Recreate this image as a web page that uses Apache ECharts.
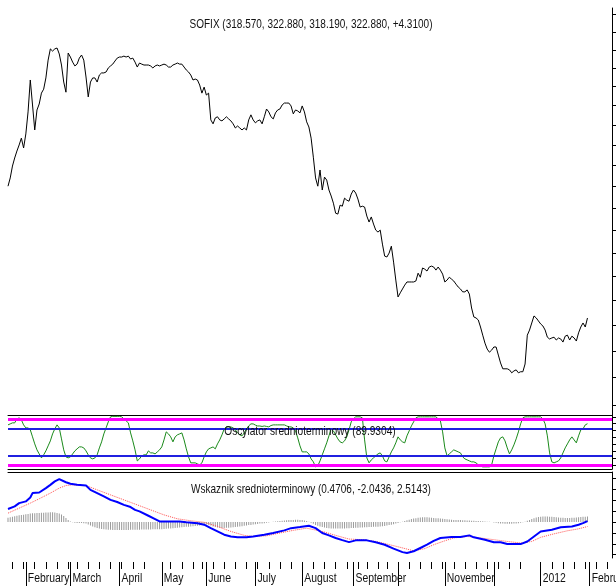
<!DOCTYPE html>
<html><head><meta charset="utf-8">
<script src="https://cdn.jsdelivr.net/npm/echarts@6/dist/echarts.min.js"></script>
<style>html,body{margin:0;padding:0;background:#fff}#c{width:616px;height:586px}</style>
</head><body><div id="c"></div>
<script>
// ---------- data ----------
const firstDay = '2011-01-20';
const lastDay = '2012-02-15';
const holidays = ['2011-03-03','2011-04-22','2011-04-25','2011-05-06','2011-05-24','2011-09-06','2011-09-22','2011-12-26'];
const monthTickLabels = ['February','March','April','May','June','July','August','September','','November','','2012','February'];

const mainTitle = 'SOFIX (318.570, 322.880, 318.190, 322.880, +4.3100)';
const oscTitle = 'Oscylator srednioterminowy (89.9304)';
const macdTitle = 'Wskaznik srednioterminowy (0.4706, -2.0436, 2.5143)';

const priceTicks = [290,300,310,320,330,340,350,360,370,380,390,400,410,420,430,440,450,460,470];
const oscTicks = [0,15,30,45,60,75,90,105];
const macdTicks = [-15,-10,-5,0,5,10,15,20];
const oscBands = [0,100];
const oscLevels = [20,80];

const price = [380.1,384.0,389.7,393.6,397.0,400.0,403.4,398.5,405.5,416.7,
433.5,420.3,407.5,417.7,420.8,426.5,428.6,434.6,444.3,450.5,
449.3,450.5,451.0,447.7,441.6,432.4,427.0,448.2,446.0,443.2,
441.1,442.1,445.4,447.1,444.3,435.1,424.5,432.4,434.6,434.6,
432.4,436.2,437.3,437.3,437.8,440.0,441.1,442.1,443.8,445.4,
446.0,446.0,446.5,446.0,446.5,444.9,445.4,443.2,440.5,442.7,
442.1,441.6,441.6,441.6,441.1,440.0,441.1,441.6,441.1,441.6,
442.1,441.6,440.5,440.5,441.6,442.1,442.7,442.1,442.1,440.5,
438.9,437.8,436.2,433.5,434.0,433.5,430.8,426.5,429.7,425.5,
426.5,412.6,410.6,413.6,414.2,412.6,412.1,413.1,414.2,413.1,
412.1,410.6,408.5,409.5,408.5,407.5,408.5,407.5,412.6,415.2,
412.6,411.1,412.1,412.6,410.6,414.2,418.2,416.7,414.2,413.1,
416.2,417.7,418.2,420.3,421.3,421.3,421.3,419.8,415.7,417.7,
417.2,416.2,419.8,416.7,411.6,409.0,403.4,394.0,384.0,380.1,
387.8,378.3,384.4,383.0,378.3,375.5,372.2,367.6,367.2,371.3,
370.8,374.5,373.6,373.1,376.4,378.3,376.9,374.1,370.4,370.8,
370.4,366.3,363.6,365.9,362.7,360.0,359.1,360.0,353.8,348.6,
348.2,349.9,352.9,346.0,338.4,331.4,333.1,334.7,336.3,337.6,
337.6,337.6,337.6,338.0,341.3,339.6,343.5,343.0,342.2,343.9,
344.3,343.9,342.6,343.9,342.6,340.9,337.6,338.4,339.6,338.8,
338.0,336.7,335.5,334.7,333.5,333.5,334.3,332.6,326.9,323.3,
322.9,322.1,319.3,316.1,313.0,310.7,309.5,310.3,311.5,311.5,
308.4,305.4,303.2,303.2,303.2,302.8,301.7,302.4,302.8,301.7,
302.1,302.1,305.0,316.1,318.1,320.9,323.7,322.9,321.7,320.5,
319.7,318.1,315.3,314.6,315.0,315.3,314.2,315.0,314.6,313.4,
315.7,316.1,314.2,315.7,315.0,313.8,317.0,319.3,320.9,319.3,
322.88];

const oscillator = [87.4,89.6,91.8,91.8,100.5,102.7,98.3,87.4,80.8,80.8,
76.5,61.2,45.9,32.8,24,15.3,21.9,30.6,41.5,52.4,
67.7,78.7,87.4,80.8,56.8,32.8,17.5,15.3,17.5,24,
30.6,35,39.3,39.3,37.1,30.6,21.9,15.3,13.1,15.3,
21.9,37.1,50.3,67.7,80.8,94,105,106,106,106,
106,105,100.5,96.1,91.8,69.9,52.4,32.8,8.7,13.1,
19.7,21.9,21.9,30.6,26.2,26.2,24,28.4,32.8,39.3,
54.6,72.1,67.7,61.2,50.3,61.2,65.6,67.7,69.9,54.6,
35,17.5,4.4,4.4,4.4,2.2,0,4.4,17.5,28.4,
35,37.1,39.3,35,45.9,54.6,65.6,78.7,83,83,
83,80.8,76.5,69.9,65.6,63.4,69.9,78.7,85.2,89.6,
89.6,87,85,85,84,85,84,83,86,87.4,
87.4,87.4,87.4,87.4,87.4,85.2,83,83,80.8,74.3,
59,41.5,28.4,28.4,28.4,24,13.1,6.6,-4.4,-2.2,
8.7,21.9,35,48.1,63.4,78.7,74.3,65.6,56.8,50.3,
48.1,52.4,61.2,76.5,94,100.5,105,105,105,102.7,
54.6,15.3,4.4,10.9,15.3,19.7,24,26.2,19.7,8.7,
6.6,17.5,28.4,37.1,48.1,61.2,54.6,50.3,48.1,63.4,
74.3,85.2,94,102.7,105,105,105,105,105,105,
105,105,105,100.5,96.1,72.1,37.1,19.7,24,28.4,
32.8,30.6,28.4,26.2,17.5,13.1,10.9,8.7,6.6,6.6,
4.4,0,-2.2,-4.4,-4.4,-4.4,-4.4,0,19.7,35,
50.3,59,61.2,52.4,37.1,24,32.8,43.7,56.8,72.1,
89.6,102.7,105,105,105,105,105,105,105,105,
100.5,89.6,63.4,26.2,6.6,4.4,6.6,8.7,15.3,26.2,
37.1,45.9,54.6,61.2,54.6,48.1,63.4,76.5,78.7,87.4,
89.93];

// [trading-day index, value]
const macdLine = [[0,6.0],[3,7.2],[5,8.7],[8,9.5],[10,11.3],[11,13.3],[14,13.6],[17,15.6],[19,17.1],[21,18.7],[23,19.7],
[26,18.3],[28,17.6],[31,17.1],[35,16.8],[37,14.8],[40,13.3],[43,11.8],[46,10.2],[49,9.2],[52,7.9],[55,6.9],[57,5.6],
[59,4.9],[63,2.9],[66,1.4],[68,0.3],[73,0.3],[77,0.3],[80,-0.1],[85,-0.5],[88,-1.2],[91,-2.8],[94,-4.3],[97,-5.8],
[100,-6.6],[103,-7.0],[107,-7.0],[110,-6.6],[115,-5.8],[119,-5.0],[124,-3.8],[127,-2.8],[131,-2.3],[135,-1.7],
[138,-2.8],[141,-5.0],[144,-6.1],[147,-7.3],[150,-8.3],[153,-9.2],[156,-8.4],[161,-8.4],[165,-9.3],[169,-10.4],
[173,-12.2],[177,-13.8],[179,-14.2],[182,-13.4],[185,-11.9],[188,-10.4],[191,-8.6],[194,-7.3],[199,-6.9],[203,-6.9],
[207,-6.1],[209,-7.0],[214,-8.1],[218,-9.3],[221,-9.3],[224,-10.1],[230,-10.1],[233,-8.9],[236,-6.6],[239,-4.3],
[244,-3.5],[248,-2.4],[253,-2.0],[256,-1.2],[258,-0.5],[260,0.4706]];

const signalLine = [[0,4.1],[5,6.4],[10,8.7],[14,10.7],[19,13.3],[23,15.6],[26,16.8],[29,17.1],[32,16.8],[35,16.8],
[40,14.8],[46,12.5],[52,10.2],[58,7.9],[64,5.6],[70,3.3],[76,1.5],[82,0.6],[88,-0.1],[94,-2.0],[100,-4.3],[106,-6.1],
[110,-6.6],[116,-6.3],[122,-5.0],[128,-3.8],[134,-2.8],[141,-4.3],[147,-6.1],[153,-7.8],[159,-8.1],[165,-8.9],
[170,-10.1],[176,-11.6],[182,-13.2],[187,-12.2],[191,-10.4],[196,-8.6],[200,-7.3],[206,-6.6],[212,-7.3],[218,-8.1],
[224,-8.9],[230,-9.6],[235,-8.9],[239,-7.0],[245,-5.4],[251,-4.0],[256,-3.1],[260,-2.0436]];

const histogram = [2.0,2.2,2.4,2.7,2.9,3.1,3.3,3.4,3.6,3.7,
3.9,4.0,4.1,4.2,4.2,4.3,4.3,4.4,4.4,4.5,
4.5,4.4,4.2,3.9,3.5,2.8,1.9,1.0,0.3,-0.1,
-0.3,-0.4,-0.4,-0.4,-0.5,-0.7,-1.1,-1.6,-2.0,-2.4,
-2.7,-3.0,-3.2,-3.3,-3.4,-3.5,-3.5,-3.6,-3.6,-3.6,
-3.6,-3.6,-3.6,-3.6,-3.6,-3.5,-3.5,-3.5,-3.5,-3.5,
-3.4,-3.4,-3.4,-3.4,-3.4,-3.3,-3.3,-3.3,-3.3,-3.3,
-3.2,-3.1,-3.0,-2.9,-2.8,-2.7,-2.6,-2.5,-2.4,-2.3,
-2.2,-2.1,-2.0,-1.9,-1.8,-1.7,-1.6,-1.4,-1.2,-1.1,
-1.2,-1.6,-2.0,-2.3,-2.5,-2.6,-2.7,-2.7,-2.6,-2.6,
-2.5,-2.4,-2.3,-2.2,-2.0,-1.9,-1.7,-1.6,-1.4,-1.3,
-1.1,-1.0,-0.9,-0.7,-0.6,-0.5,-0.3,-0.2,0.0,0.2,
0.3,0.4,0.5,0.6,0.7,0.8,0.9,1.0,1.0,1.1,
1.1,1.0,0.9,0.7,0.5,0.2,-0.3,-0.8,-1.3,-1.7,
-2.0,-2.3,-2.5,-2.7,-2.8,-2.9,-3.0,-3.0,-3.0,-3.0,
-2.9,-2.9,-2.8,-2.8,-2.7,-2.7,-2.6,-2.6,-2.5,-2.5,
-2.4,-2.4,-2.3,-2.3,-2.2,-2.2,-2.1,-2.0,-1.9,-1.8,
-1.6,-1.4,-1.2,-1.0,-0.7,-0.4,-0.1,0.2,0.5,0.8,
1.1,1.4,1.6,1.8,2.0,2.1,2.2,2.2,2.2,2.1,
2.0,1.9,1.8,1.7,1.6,1.5,1.4,1.3,1.2,1.1,
1.0,1.0,0.9,0.9,0.8,0.8,0.7,0.7,0.6,0.6,
0.5,0.5,0.4,0.4,0.3,0.2,0.1,0.0,-0.2,-0.3,
-0.5,-0.6,-0.7,-0.8,-0.8,-0.8,-0.8,-0.7,-0.6,-0.5,
-0.3,-0.1,0.2,0.6,1.0,1.4,1.8,2.1,2.3,2.5,
2.6,2.6,2.6,2.5,2.4,2.3,2.2,2.1,2.0,2.0,
1.9,1.9,1.9,2.0,2.0,2.1,2.2,2.3,2.4,2.5,
2.5143];

// ---------- trading-day categories ----------
const dates = [];
(function(){
  const d = new Date(firstDay + 'T00:00:00Z');
  const end = new Date(lastDay + 'T00:00:00Z');
  while (d <= end) {
    const w = d.getUTCDay();
    const s = d.toISOString().slice(0, 10);
    if (w !== 0 && w !== 6 && holidays.indexOf(s) < 0) dates.push(s);
    d.setUTCDate(d.getUTCDate() + 1);
  }
})();
const isMonday = dates.map(s => new Date(s + 'T00:00:00Z').getUTCDay() === 1);
const monthLabelAt = {};
let mCount = 0;
dates.forEach((s, i) => {
  if (i > 0 && s.slice(0, 7) !== dates[i - 1].slice(0, 7)) {
    monthLabelAt[i] = monthTickLabels[mCount] !== undefined ? monthTickLabels[mCount] : '';
    mCount++;
  }
});

const FONT = '"Liberation Sans", Arial, sans-serif';
const L = 8, R = 4;

const hiddenX = (grid, extra) => Object.assign({
  type: 'category', gridIndex: grid, data: dates, boundaryGap: false,
  axisLine: {show: false, onZero: false}, axisTick: {show: false}, axisLabel: {show: false}, splitLine: {show: false}
}, extra || {});
const blackLine = {show: true, onZero: false, lineStyle: {color: '#000', width: 1}};

const rightY = (grid, extra) => Object.assign({
  gridIndex: grid, position: 'right',
  axisLine: {show: true, onZero: false, lineStyle: {color: '#000', width: 1}},
  axisLabel: {show: false}, splitLine: {show: false}
}, extra);

const gridBase = {left: L, right: R, containLabel: false, outerBoundsMode: 'none'};

const option = {
  animation: false,
  backgroundColor: '#fff',
  grid: [
    Object.assign({top: 8, height: 407}, gridBase),
    Object.assign({top: 415, height: 54}, gridBase),
    Object.assign({top: 472, height: 86}, gridBase)
  ],
  xAxis: [
    hiddenX(0),
    hiddenX(1, {position: 'bottom', axisLine: blackLine}),
    hiddenX(1, {position: 'top', axisLine: blackLine}),
    hiddenX(2, {position: 'top', axisLine: blackLine}),
    hiddenX(2, {position: 'bottom', offset: 4,
      axisTick: {show: true, length: 7, interval: (i) => isMonday[i], lineStyle: {color: '#000'}}}),
    hiddenX(2, {position: 'bottom', offset: 4,
      axisTick: {show: true, length: 24, interval: (i) => monthLabelAt[i] !== undefined, lineStyle: {color: '#000'}}})
  ],
  yAxis: [
    rightY(0, {type: 'log', logBase: 10, min: 286.35, max: 473.9,
      axisTick: {show: true, length: 4, customValues: priceTicks, lineStyle: {color: '#000'}}}),
    rightY(1, {type: 'value', min: -9, max: 109,
      axisTick: {show: true, length: 4, customValues: oscTicks, lineStyle: {color: '#000'}}}),
    rightY(2, {type: 'value', min: -16.5, max: 23,
      axisTick: {show: true, length: 4, customValues: macdTicks, lineStyle: {color: '#000'}}})
  ],
  series: [
    {type: 'line', name: 'SOFIX', xAxisIndex: 0, yAxisIndex: 0, data: price, symbol: 'none',
      lineStyle: {color: '#000', width: 1}},
    {type: 'line', name: 'osc', xAxisIndex: 1, yAxisIndex: 1, data: oscillator, symbol: 'none', z: 3,
      lineStyle: {color: '#1a8a1a', width: 1},
      markLine: {silent: true, symbol: 'none', label: {show: false},
        data: oscBands.map(v => ({yAxis: v, lineStyle: {color: '#ff00ff', width: 3, type: 'solid'}}))
          .concat(oscLevels.map(v => ({yAxis: v, lineStyle: {color: '#2020e0', width: 2, type: 'solid'}})))}},
    {type: 'bar', name: 'hist', xAxisIndex: 3, yAxisIndex: 2, data: histogram, barWidth: 1,
      itemStyle: {color: '#9a9a9a'}},
    {type: 'line', name: 'signal', xAxisIndex: 3, yAxisIndex: 2, data: signalLine, symbol: 'none',
      lineStyle: {color: '#ff5050', width: 1, type: 'dotted'}},
    {type: 'line', name: 'macd', xAxisIndex: 3, yAxisIndex: 2, data: macdLine, symbol: 'none',
      lineStyle: {color: '#0000ff', width: 2}}
  ]
};
const chart = echarts.init(document.getElementById('c'));
chart.setOption(option);

// ---------- texts (narrow face) ----------
function txt(text, x, y, align, sx) {
  return {type: 'text', x: x, y: y, scaleX: sx, z: 100,
    style: {text: text, font: '13px ' + FONT, fill: '#111',
      align: align, verticalAlign: 'middle', textAlign: align, textVerticalAlign: 'middle'}};
}
const gridMid = L + (616 - L - R) / 2;
const texts = [
  txt(mainTitle, gridMid + 1, 24, 'center', 0.77),
  txt(oscTitle, gridMid, 431, 'center', 0.78),
  txt(macdTitle, gridMid + 1, 489, 'center', 0.77)
];
Object.keys(monthLabelAt).forEach(k => {
  const label = monthLabelAt[k];
  if (!label) return;
  const px = chart.convertToPixel({xAxisIndex: 5}, dates[+k]);
  texts.push(txt(label, px + 2, 578, 'left', 0.8));
});
chart.setOption({graphic: texts});
</script>
</body></html>
